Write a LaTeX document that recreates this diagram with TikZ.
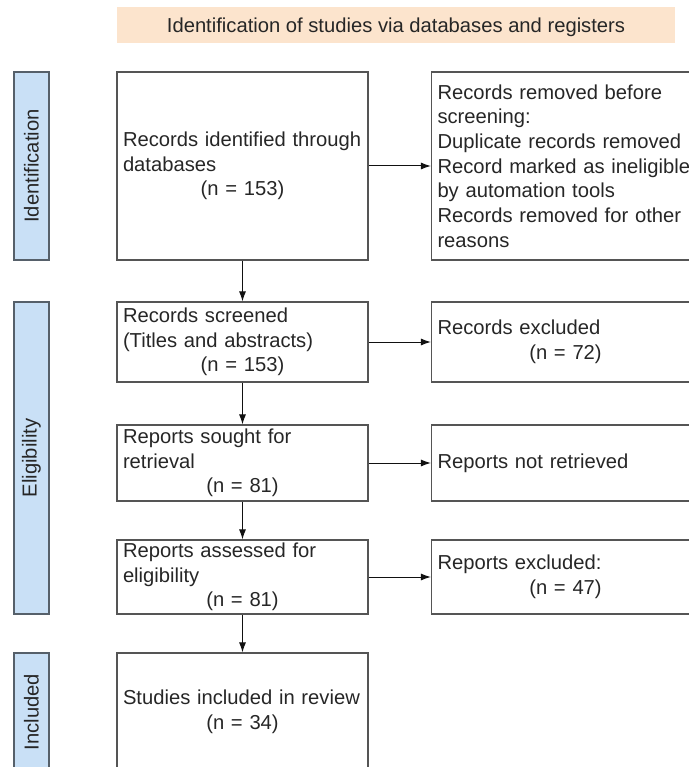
\documentclass[tikz,border=0pt]{standalone}
\usepackage{fontspec}
\setmainfont{Liberation Sans}
\usetikzlibrary{arrows.meta}
\definecolor{prismaLine}{HTML}{555555}
\definecolor{prismaText}{HTML}{262626}
\definecolor{prismaHeadBg}{HTML}{FCE4CD}
\definecolor{prismaPhase}{HTML}{56606A}
\definecolor{prismaPhaseBg}{HTML}{C9E0F6}
\definecolor{prismaFlow}{HTML}{111111}

\begin{document}
\begin{tikzpicture}[
    x=1pt,y=-1pt,>=Latex,
    every node/.style={font=\fontsize{20.2}{24.7}\selectfont,text=prismaText,inner sep=0pt},
    header/.style={fill=prismaHeadBg,minimum width=558pt,minimum height=36pt,text depth=0pt},
    phase/.style={draw=prismaPhase,fill=prismaPhaseBg,line width=1.3pt,rotate=90,minimum height=35pt},
    record/.style={draw=prismaLine,line width=1.2pt,align=left,inner xsep=6pt,text width=239pt},
    removal/.style={draw=prismaLine,line width=1.2pt,align=left,inner xsep=6pt,text width=256pt},
    flow/.style={-{Latex[length=10pt,width=7pt]},draw=prismaFlow,line width=1pt}
]
\useasboundingbox (0,0) rectangle (688,767);
\node[header] (title) at (396,25) {Identification of studies via databases and registers};

\node[phase,minimum width=188pt] (idphase) at (31.5,166) {Identification};
\node[phase,minimum width=312pt] (eligphase) at (31.5,458) {Eligibility};
\node[phase,minimum width=118pt] (inclphase) at (31.5,712) {Included};

\node[record,minimum height=188pt] (identified) at (242.5,166)
    {Records identified through\\databases\\\makebox[\linewidth]{(n = 153)}};
\node[record,minimum height=80pt] (screened) at (242.5,342)
    {Records screened\\(Titles and abstracts)\\\makebox[\linewidth]{(n = 153)}};
\node[record,minimum height=76pt] (sought) at (242.5,463)
    {Reports sought for\\retrieval\\\makebox[\linewidth]{(n = 81)}};
\node[record,minimum height=74pt] (assessed) at (242.5,577)
    {Reports assessed for\\eligibility\\\makebox[\linewidth]{(n = 81)}};
\node[record,minimum height=118pt] (included) at (242.5,712)
    {Studies included in review\\\makebox[\linewidth]{(n = 34)}};

\node[removal,minimum height=188pt] (removed) at (565.5,166)
    {Records removed before\\screening:\\Duplicate records removed\\Record marked as ineligible\\by automation tools\\Records removed for other\\reasons};
\node[removal,minimum height=80pt] (excluded) at (565.5,342)
    {Records excluded\\\makebox[\linewidth]{(n = 72)}};
\node[removal,minimum height=76pt] (notretrieved) at (565.5,463)
    {Reports not retrieved};
\node[removal,minimum height=74pt] (reportsexcl) at (565.5,577)
    {Reports excluded:\\\makebox[\linewidth]{(n = 47)}};

\draw[flow] (identified) -- (removed);
\draw[flow] (screened) -- (excluded);
\draw[flow] (sought) -- (notretrieved);
\draw[flow] (assessed) -- (reportsexcl);
\draw[flow] (identified) -- (screened);
\draw[flow] (screened) -- (sought);
\draw[flow] (sought) -- (assessed);
\draw[flow] (assessed) -- (included);
\end{tikzpicture}
\end{document}
